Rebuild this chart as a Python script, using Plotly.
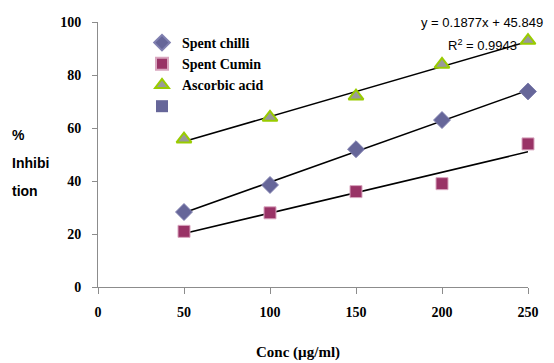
import numpy as np
import plotly.graph_objects as go

conc = [50, 100, 150, 200, 250]
spent_chilli = [28.3, 38.5, 52, 63, 73.8]
spent_cumin = [21, 28, 36, 39, 54]
ascorbic_acid = [55.8, 64, 72, 84, 93]
x_ticks = [0, 50, 100, 150, 200, 250]
y_ticks = [0, 20, 40, 60, 80, 100]

OFF = 8  # page body margin
W, H = 554 - OFF, 363 - OFF
L, R, T, B = 98 - OFF, 26, 22 - OFF, 76

fig = go.Figure()

def trend(ys):
    s, c = np.polyfit(conc, ys, 1)
    xs = [conc[0], conc[-1]]
    return xs, [s * v + c for v in xs]

for ys in (spent_chilli, spent_cumin, ascorbic_acid):
    tx, ty = trend(ys)
    fig.add_trace(go.Scatter(x=tx, y=ty, mode="lines", line=dict(color="black", width=1.5),
                             showlegend=False, hoverinfo="skip", cliponaxis=False))

fig.add_trace(go.Scatter(x=conc, y=spent_chilli, mode="markers", name="Spent chilli",
                         marker=dict(symbol="diamond", size=13, color="#666699",
                                     line=dict(color="#8080b0", width=1)), cliponaxis=False))
fig.add_trace(go.Scatter(x=conc, y=spent_cumin, mode="markers", name="Spent Cumin",
                         marker=dict(symbol="square", size=12, color="#993366",
                                     line=dict(color="#d9a6bf", width=1)), cliponaxis=False))
fig.add_trace(go.Scatter(x=conc, y=ascorbic_acid, mode="markers", name="Ascorbic acid",
                         marker=dict(symbol="triangle-up", size=13, color="#999999",
                                     line=dict(color="#99cc00", width=2)), cliponaxis=False))
fig.add_trace(go.Scatter(x=[None], y=[None], mode="markers", name=" ",
                         marker=dict(symbol="square", size=14, color="#666699")))

tick_font = dict(family="Liberation Serif", size=14, color="black", weight="bold")
fig.update_xaxes(range=[0, 250], tickvals=x_ticks, ticktext=[str(v) for v in x_ticks],
                 showline=True, linecolor="#8c8c8c", linewidth=1, ticks="outside",
                 ticklen=6, tickcolor="#8c8c8c", showgrid=False, zeroline=False,
                 tickfont=tick_font, ticklabelstandoff=6, automargin=False)
fig.update_yaxes(range=[0, 100], tickvals=y_ticks, ticktext=[str(v) for v in y_ticks],
                 showline=True, linecolor="#8c8c8c", linewidth=1, ticks="outside",
                 ticklen=5, tickcolor="#8c8c8c", showgrid=False, zeroline=False,
                 tickfont=tick_font, ticklabelstandoff=8, automargin=False)

pw, ph = 430, 265
PL, PB = 98, 287  # plot-area left / bottom in window pixels
def px(xp): return (xp - PL) / pw
def py(yp): return (PB - yp) / ph

ann = [
    dict(text="y = 0.1877x + 45.849", x=px(545), y=py(22), xanchor="right", yanchor="middle",
         font=dict(family="Liberation Sans", size=13, color="black")),
    dict(text="R<sup>2</sup> = 0.9943", x=px(482), y=py(45), xanchor="center", yanchor="middle",
         font=dict(family="Liberation Sans", size=13, color="black")),
    dict(text="<b>Conc (µg/ml)</b>", x=px(298), y=py(352), xanchor="center", yanchor="middle",
         font=dict(family="Liberation Serif", size=15, color="black")),
]
for txt, yy in (("%", 135), ("Inhibi", 163), ("tion", 191)):
    ann.append(dict(text="<b>" + txt + "</b>", x=px(10), y=py(yy), xanchor="left", yanchor="middle",
                    font=dict(family="Liberation Sans", size=14, color="black")))
for a in ann:
    a.update(xref="paper", yref="paper", showarrow=False)

fig.update_layout(
    width=W, height=H, margin=dict(l=L, r=R, t=T, b=B, autoexpand=False),
    paper_bgcolor="white", plot_bgcolor="white",
    annotations=ann,
    legend=dict(x=px(142), y=py(27), xanchor="left", yanchor="top",
                bgcolor="rgba(0,0,0,0)",
                font=dict(family="Liberation Serif", size=14, color="black", weight="bold"),
                itemsizing="constant"),
)
fig.write_html("out.html")
